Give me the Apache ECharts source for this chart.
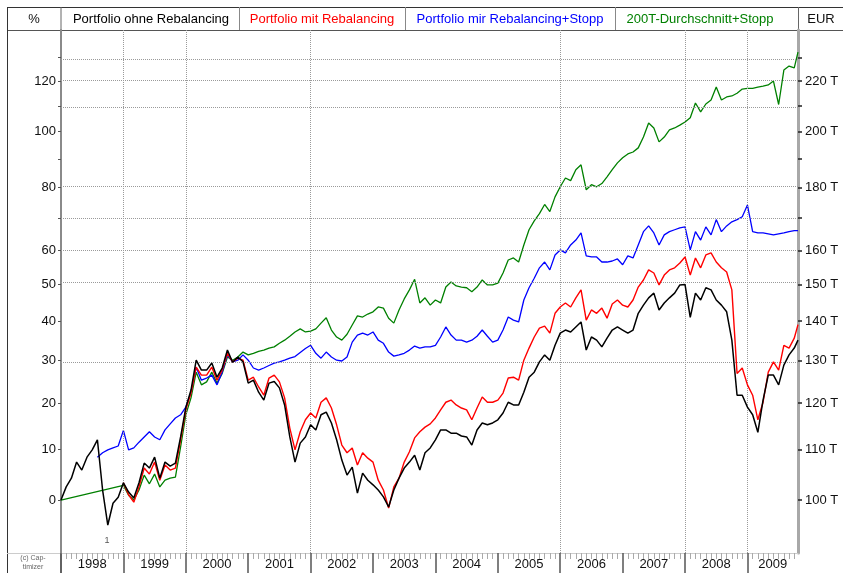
<!DOCTYPE html>
<html><head><meta charset="utf-8">
<script src="https://cdn.jsdelivr.net/npm/echarts@6/dist/echarts.min.js"></script>
<style>html,body{margin:0;padding:0;background:#fff}#c{width:843px;height:573px}</style>
</head><body><div id="c"></div>
<script>
// ---- data (percent change, monthly from Jan 1998; last point ~20 Oct 2009) ----
const names = ['Portfolio ohne Rebalancing','Portfolio mit Rebalancing','Portfolio mir Rebalancing+Stopp','200T-Durchschnitt+Stopp'];
const startYear = 1998;
const endTime = 2009.81;
const black = [
 0,2.5,4.2,7.4,5.8,8.4,9.9,12.0,1.9,-4.6,-0.6,0.5,
 3.3,1.5,0.4,3.3,7.2,6.2,8.4,4.2,7.4,6.6,7.2,12.6,
 19,23,30.1,27.7,27.7,29.4,26,28.2,32.6,29.6,30.9,29.7,
 24.6,25.3,22.5,20.7,24.6,25,23.5,19.6,12.6,7.4,11.3,12.6,
 15.2,14.1,17.4,18,15.6,12,7.8,4.8,6.4,1.3,5.2,3.8,
 2.9,1.9,0.6,-1.3,1.9,4.2,6.2,7.4,8.8,5.8,9.3,10.3,
 12,14.1,14.1,13.4,13.4,12.8,12.6,10.9,14.1,15.6,15.2,15.6,
 16.3,17.8,20.2,19.6,19.6,22.5,26,27.2,29.7,31.4,30.1,33.8,
 36.9,37.7,37.2,38.5,39.8,32.6,35.9,35.1,33.4,35.6,37.7,38.5,
 37.7,36.9,37.7,42.1,44.3,46.3,47.6,43,44.9,46.3,47.6,49.9,
 50,41,47.6,45.7,49.1,48.5,45.7,44.3,42.5,35.1,21.8,21.8,
 19.1,17.4,13.6,20.7,26.5,26.5,24.2,28.9,31.4,33.1,35.1
];
const red = [
 null,null,null,null,null,null,null,null,null,null,null,null,
 3.3,1,-0.4,2.5,6.2,5,7.4,3.8,6.8,5.8,6.2,12,
 18.5,22.3,28.4,26.5,26.5,28.4,25.3,27.7,31.8,29.7,30.6,30.1,
 25.3,26,23.7,21.8,25.8,26.5,24.9,21.2,14.5,9.9,13.7,16.3,
 17.8,16.7,20.2,21.2,18.9,15.2,10.9,9.3,10.3,6.8,9.3,8.2,
 7.4,3.8,1.9,-1.5,2.5,4.2,7.4,9.5,12.4,13.7,14.7,15.4,
 16.7,18.5,20.2,20.7,19.6,18.9,18.5,16.3,18.9,21.4,20.2,20.2,
 20.7,22.3,25.8,26,25.3,30.1,33.1,35.9,38.2,38.7,36.9,42.1,
 43.8,44.9,43.8,46.3,48.5,40.3,43,42.1,43.5,40.8,44.6,45.7,
 44.3,43.8,45.7,49.3,51.3,54.2,53.3,49.9,52.7,54.2,54.8,56.2,
 58,52.7,57.7,54.8,58.6,59.2,56.5,54.8,53.6,48.5,26.9,28.2,
 24.2,21.8,16.3,20.2,27.2,29.7,27.7,33.8,33.1,35.6,39.1
];
const blue = [
 null,null,null,null,null,null,null,8.4,9.3,9.9,10.3,10.7,
 14,9.9,10.3,11.5,12.6,13.7,12.6,12,14.1,15.4,16.7,17.4,
 19.1,22.5,28.4,25.3,25.8,26.5,24.2,27.2,31.4,29.7,30.1,31.4,
 30.1,28.2,27.7,28.2,28.8,29.4,29.7,30.1,30.6,31,32,33,
 33.8,31.8,30.6,32.1,30.9,30.1,29.9,30.9,34.6,36.4,36.9,36.4,
 37.2,35.1,34.3,32.1,31.1,31.4,31.8,32.6,33.6,33.1,33.4,33.4,
 33.8,35.9,38.5,36.4,35.1,35.1,34.6,35.1,36.1,37.7,36.1,34.6,
 35.1,37.7,41.1,40.3,39.8,45.7,49.1,51.8,54.8,56.5,54.2,58.6,
 60.1,59.2,61.6,63.1,65.3,58.3,58,58,56.5,56.5,56.8,57.4,
 55.7,58.3,57.7,61.6,65.7,67.5,65.3,61.6,64.7,65.7,66.3,66.9,
 67.2,60.1,65.7,63.1,67.2,64.7,69.5,65.7,67.5,68.8,69.5,70.4,
 74.2,65.7,65.3,65.3,65,64.7,65,65.3,65.7,66,66
];
const green = [
 0,null,null,null,null,null,null,null,null,null,null,null,
 2.8,0.9,0,1.9,4.8,3.1,5,2.5,3.8,4.2,4.4,10.5,
 17.4,21.2,27.2,24.2,24.9,27.2,24.6,26.9,30.9,30.1,30.9,32.1,
 31.4,31.8,32.3,32.6,33.1,33.4,34.3,35.1,36.1,37.2,38,37.2,
 37.4,38,39.5,40.9,37.7,35.9,35.1,36.6,39,41.4,41.1,41.9,
 42.5,43.8,43.5,40.8,39.5,43,46,48.5,51.5,44.9,46.3,44.3,
 45.7,44.9,49.3,50.7,49.6,49.3,49.1,48,49.3,51.3,49.9,49.9,
 50.4,53.3,57.1,57.7,56.5,61.6,66.3,69.1,71.4,74.4,72.1,76.9,
 80.3,83.3,82.4,86.2,87.9,79.3,81,80.3,81.4,83.7,86.2,88.6,
 90.4,91.8,92.5,94,98,103.3,101.4,96.2,98,100.7,101.4,102.5,
 103.7,105.3,111.1,107.6,110.7,112.3,117.5,112.3,113.5,113.9,115,116.7,
 117,117,117.5,117.9,118.4,120,110.5,124.6,126.3,125.5,132.3
];
const pctLabels = [0,10,20,30,40,50,60,80,100,120];
const pctTicks = [0,10,20,30,40,50,60,70,80,90,100,110,120,130];
const hGrid = [30,50,60,70,80,110,120,130];
const vGrid = [1999,2000,2002,2006,2008,2009];
const years = [1998,1999,2000,2001,2002,2003,2004,2005,2006,2007,2008,2009];
const colors = ['#000000','#ff0000','#0000ff','#008000'];

// ---- helpers ----
const toY = p => Math.log(1 + p / 100);          // log scale (EUR value relative to 100 T)
const timeAt = i => (i < black.length - 1 ? startYear + i / 12 : endTime);
const build = arr => arr.map((v, i) => [timeAt(i), v == null ? null : toY(v)]);
const yearMid = years.map(y => (y < 2009 ? y + 0.5 : (y + endTime) / 2));
const monthTicks = [];
for (let y = startYear; y <= 2009; y++) for (let m = 1; m < 12; m++) { const t = y + m / 12; if (t < endTime) monthTicks.push(t); }

const FONT = '"Liberation Sans", Arial, sans-serif';
const yMin = -0.0997, yMax = 0.8845;

const chart = echarts.init(document.getElementById('c'), null, {renderer: 'canvas'});
const option = {
  animation: false,
  backgroundColor: '#ffffff',
  textStyle: {fontFamily: FONT},
  grid: {left: 61, right: 45, top: 30, bottom: 20, containLabel: false, outerBoundsMode: 'none'},
  xAxis: [
    {type: 'value', min: startYear, max: endTime, position: 'bottom',
     axisLine: {show: true, onZero: false, lineStyle: {color: '#cccccc', width: 1}},
     axisTick: {show: true, customValues: years, length: 20, lineStyle: {color: '#555', width: 1.5}},
     axisLabel: {show: true, customValues: yearMid, formatter: v => String(Math.floor(v)), fontSize: 13, color: '#111', margin: 5, fontFamily: FONT},
     splitLine: {show: false}},
    {type: 'value', min: startYear, max: endTime, position: 'bottom',
     axisLine: {show: false, onZero: false},
     axisTick: {show: true, customValues: monthTicks, length: 6, lineStyle: {color: '#aaa', width: 1}},
     axisLabel: {show: false}, splitLine: {show: false}}
  ],
  yAxis: [
    {type: 'value', min: yMin, max: yMax, position: 'left',
     axisLine: {show: true, onZero: false, lineStyle: {color: '#8a8a8a', width: 2}},
     axisTick: {show: true, customValues: pctTicks.map(toY), length: 3, lineStyle: {color: '#555'}},
     axisLabel: {show: true, customValues: pctLabels.map(toY), formatter: v => String(Math.round((Math.exp(v) - 1) * 100)), fontSize: 13, color: '#111', margin: 5, fontFamily: FONT},
     splitLine: {show: false}},
    {type: 'value', min: yMin, max: yMax, position: 'right',
     axisLine: {show: true, onZero: false, lineStyle: {color: '#a8a8a8', width: 3}},
     axisTick: {show: true, customValues: pctTicks.map(toY), length: 4, lineStyle: {color: '#222', width: 1.5}},
     axisLabel: {show: true, customValues: pctLabels.map(toY), formatter: v => Math.round(100 * Math.exp(v)) + ' T', fontSize: 13, color: '#111', margin: 7, fontFamily: FONT},
     splitLine: {show: false}}
  ],
  series: [
    {type: 'line', name: 'grid', data: [], silent: true, z: 1,
     markLine: {silent: true, symbol: ['none', 'none'], animation: false, label: {show: false},
       lineStyle: {type: 'dotted', color: '#9a9a9a', width: 1},
       emphasis: {disabled: true},
       data: hGrid.map(p => ({yAxis: toY(p)})).concat(vGrid.map(y => ({xAxis: y})))}},
    {type: 'line', name: names[3], data: build(green), connectNulls: true, showSymbol: false, symbol: 'none', z: 3,
     lineStyle: {color: colors[3], width: 1.3}, itemStyle: {color: colors[3]}},
    {type: 'line', name: names[2], data: build(blue), showSymbol: false, symbol: 'none', z: 4,
     lineStyle: {color: colors[2], width: 1.3}, itemStyle: {color: colors[2]}},
    {type: 'line', name: names[1], data: build(red), showSymbol: false, symbol: 'none', z: 5,
     lineStyle: {color: colors[1], width: 1.4}, itemStyle: {color: colors[1]}},
    {type: 'line', name: names[0], data: build(black), showSymbol: false, symbol: 'none', z: 6,
     lineStyle: {color: colors[0], width: 1.5}, itemStyle: {color: colors[0]}}
  ],
  graphic: [
    {type: 'line', shape: {x1: 7, y1: 7.5, x2: 843, y2: 7.5}, style: {stroke: '#333', lineWidth: 1}},
    {type: 'line', shape: {x1: 7, y1: 30.5, x2: 843, y2: 30.5}, style: {stroke: '#555', lineWidth: 1}},
    {type: 'line', shape: {x1: 7.5, y1: 7, x2: 7.5, y2: 573}, style: {stroke: '#333', lineWidth: 1}},
    {type: 'line', shape: {x1: 61, y1: 7, x2: 61, y2: 30}, style: {stroke: '#666', lineWidth: 1}},
    {type: 'line', shape: {x1: 239.5, y1: 7, x2: 239.5, y2: 30}, style: {stroke: '#888', lineWidth: 1}},
    {type: 'line', shape: {x1: 405.5, y1: 7, x2: 405.5, y2: 30}, style: {stroke: '#888', lineWidth: 1}},
    {type: 'line', shape: {x1: 615.5, y1: 7, x2: 615.5, y2: 30}, style: {stroke: '#888', lineWidth: 1}},
    {type: 'line', shape: {x1: 798.5, y1: 7, x2: 798.5, y2: 30}, style: {stroke: '#666', lineWidth: 1}},
    {type: 'line', shape: {x1: 61, y1: 553, x2: 61, y2: 573}, style: {stroke: '#8a8a8a', lineWidth: 2}},
    {type: 'line', shape: {x1: 7, y1: 553.5, x2: 61, y2: 553.5}, style: {stroke: '#cccccc', lineWidth: 1}},
    {type: 'text', x: 34, y: 19, style: {text: '%', fill: '#111', font: '13px ' + FONT, textAlign: 'center', textVerticalAlign: 'middle'}},
    {type: 'text', x: 151, y: 19, style: {text: names[0], fill: colors[0], font: '13px ' + FONT, textAlign: 'center', textVerticalAlign: 'middle'}},
    {type: 'text', x: 322, y: 19, style: {text: names[1], fill: colors[1], font: '13px ' + FONT, textAlign: 'center', textVerticalAlign: 'middle'}},
    {type: 'text', x: 510, y: 19, style: {text: names[2], fill: colors[2], font: '13px ' + FONT, textAlign: 'center', textVerticalAlign: 'middle'}},
    {type: 'text', x: 700, y: 19, style: {text: names[3], fill: colors[3], font: '13px ' + FONT, textAlign: 'center', textVerticalAlign: 'middle'}},
    {type: 'text', x: 821, y: 19, style: {text: 'EUR', fill: '#111', font: '13px ' + FONT, textAlign: 'center', textVerticalAlign: 'middle'}},
    {type: 'text', x: 33, y: 563, style: {text: '(c) Cap-\ntimizer', fill: '#666', font: '7px ' + FONT, textAlign: 'center', textVerticalAlign: 'middle', lineHeight: 9}},
    {type: 'text', x: 107, y: 541, style: {text: '1', fill: '#555', font: '9px ' + FONT, textAlign: 'center', textVerticalAlign: 'middle'}}
  ]
};
chart.setOption(option);
</script>
</body></html>
